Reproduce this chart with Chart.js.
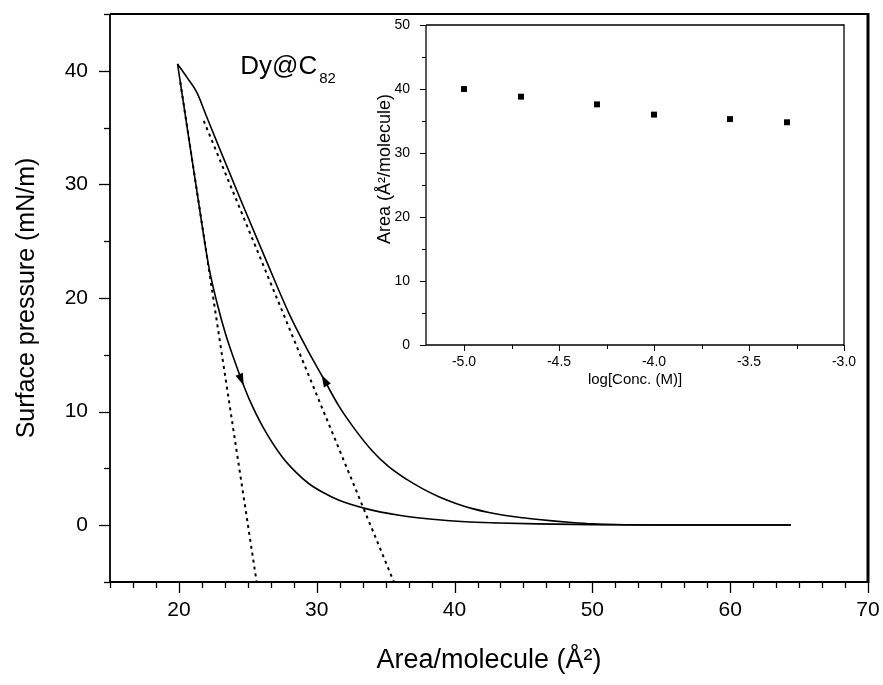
<!DOCTYPE html>
<html><head><meta charset="utf-8">
<script src="https://cdn.jsdelivr.net/npm/chart.js@4.4.1/dist/chart.umd.min.js"></script>
<style>
html,body{margin:0;padding:0;background:#fff;}
#wrap{position:relative;width:883px;height:685px;overflow:hidden;}
#main{position:absolute;left:0;top:0;}
#inset{position:absolute;left:340px;top:15px;}
</style></head><body>
<div id="wrap">
<canvas id="main" width="883" height="685"></canvas>
<canvas id="inset" width="520" height="380"></canvas>
</div>
<script>
// ---- main isotherm: compression curve (upper/right) ----
const compArea     = [19.9, 20.6, 21.3, 22.0, 22.9, 24.6, 26.3, 28.0, 29.3, 30.5, 31.6, 32.8, 34.0, 35.2, 36.5, 37.7, 38.9, 40.1, 41.3, 42.5, 43.7, 44.9, 46.1, 47.3, 48.5, 50.0, 51.5, 55.0, 64.4];
const compPressure = [40.6, 39.4, 38.1, 36.0, 33.3, 28.3, 23.4, 18.6, 15.5, 12.9, 10.5, 8.39, 6.58, 5.17, 4.05, 3.2, 2.49, 1.92, 1.46, 1.12, 0.86, 0.66, 0.5, 0.36, 0.24, 0.12, 0.06, 0.02, 0.02];
// ---- expansion curve (lower/left) ----
const expArea     = [19.9, 20.6, 21.33, 22.18, 22.8, 23.39, 24.0, 24.6, 25.1, 26.05, 27.5, 28.5, 29.44, 30.5, 31.62, 33.56, 35.98, 38.4, 40.8, 43.24, 46.0, 50.0, 55.0, 64.4];
const expPressure = [40.6, 35.0, 29.2, 22.7, 19.4, 16.8, 14.6, 12.6, 11.1, 8.75, 6.0, 4.65, 3.65, 2.85, 2.19, 1.46, 0.88, 0.53, 0.3, 0.2, 0.12, 0.05, 0.02, 0.02];
// ---- tangent (extrapolation) lines ----
const tanLeftArea      = [20.1, 25.64];
const tanLeftPressure  = [39.0, -5];
const tanRightArea     = [21.8, 35.6];
const tanRightPressure = [35.6, -5];
// ---- direction arrows on curves ----
const arrowCurve = ['exp', 'comp'];
const arrowArea  = [24.7, 30.35];
const arrowDir   = [1, -1];
// ---- main axis ticks ----
const mainXTicks = [20, 30, 40, 50, 60, 70];
const mainYTicks = [0, 10, 20, 30, 40];
// ---- inset: area vs log concentration ----
const logConc   = [-5.0, -4.7, -4.3, -4.0, -3.6, -3.3];
const insetArea = [40.0, 38.8, 37.6, 36.0, 35.3, 34.8];
const insetXTicks = [-5.0, -4.5, -4.0, -3.5, -3.0];
const insetYTicks = [0, 10, 20, 30, 40, 50];

const FONT = "'Liberation Sans', Arial, Helvetica, sans-serif";
Chart.defaults.font.family = FONT;
Chart.defaults.color = '#000';

const pts = (xs, ys) => xs.map((x, i) => ({x, y: ys[i]}));
const setTicks = arr => s => { s.ticks = arr.map(v => ({value: v})); };
const range = (a, b, step) => { const r = []; for (let v = a; v <= b + 1e-9; v += step) r.push(+v.toFixed(6)); return r; };
const fixW = w => s => { s.width = w; s.paddingTop = s.paddingBottom = s.paddingLeft = s.paddingRight = 0; };
const fixH = h => s => { s.height = h; s.paddingTop = s.paddingBottom = s.paddingLeft = s.paddingRight = 0; };

const framePlugin = {
  id: 'frame',
  afterDraw(chart, args, o) {
    const {ctx, chartArea: a, scales: {x, y}} = chart;
    ctx.save();
    ctx.strokeStyle = '#000';
    ctx.lineCap = 'butt';
    ctx.lineWidth = o.tickWidth;
    o.xMinor.forEach(v => {
      if (v < x.min - 1e-9 || v > x.max + 1e-9) return;
      const px = Math.round(x.getPixelForValue(v)) + 0.5;
      const major = o.xMajor.some(m => Math.abs(m - v) < 1e-6);
      ctx.beginPath(); ctx.moveTo(px, a.bottom); ctx.lineTo(px, a.bottom + (major ? o.majorLen : o.minorLen)); ctx.stroke();
    });
    o.yMinor.forEach(v => {
      if (v < y.min - 1e-9 || v > y.max + 1e-9) return;
      const py = Math.round(y.getPixelForValue(v)) + 0.5;
      const major = o.yMajor.some(m => Math.abs(m - v) < 1e-6);
      ctx.beginPath(); ctx.moveTo(a.left, py); ctx.lineTo(a.left - (major ? o.majorLen : o.minorLen), py); ctx.stroke();
    });
    ctx.lineWidth = o.lw;
    ctx.beginPath();
    ctx.moveTo(a.left, a.top); ctx.lineTo(a.right, a.top);
    ctx.moveTo(a.left, a.top); ctx.lineTo(a.left, a.bottom); ctx.lineTo(a.right, a.bottom);
    ctx.stroke();
    ctx.lineWidth = o.rightLw;
    ctx.beginPath(); ctx.moveTo(a.right, a.top - o.lw / 2); ctx.lineTo(a.right, a.bottom + o.lw / 2); ctx.stroke();
    ctx.restore();
  }
};

const annotPlugin = {
  id: 'annot',
  afterDatasetsDraw(chart) {
    const {ctx, scales: {x, y}} = chart;
    ctx.save();
    ctx.fillStyle = '#000';
    arrowCurve.forEach((c, i) => {
      const xs = c === 'exp' ? expArea : compArea;
      const ys = c === 'exp' ? expPressure : compPressure;
      let k = 0;
      while (k < xs.length - 2 && xs[k + 1] < arrowArea[i]) k++;
      const t = (arrowArea[i] - xs[k]) / (xs[k + 1] - xs[k]);
      const vy = ys[k] + t * (ys[k + 1] - ys[k]);
      const px = x.getPixelForValue(arrowArea[i]), py = y.getPixelForValue(vy);
      let dx = x.getPixelForValue(xs[k + 1]) - x.getPixelForValue(xs[k]);
      let dy = y.getPixelForValue(ys[k + 1]) - y.getPixelForValue(ys[k]);
      const L = Math.hypot(dx, dy); dx = dx / L * arrowDir[i]; dy = dy / L * arrowDir[i];
      const len = 12, hw = 4;
      const bx = px - dx * len, by = py - dy * len;
      ctx.beginPath();
      ctx.moveTo(px, py);
      ctx.lineTo(bx - dy * hw, by + dx * hw);
      ctx.lineTo(bx + dy * hw, by - dx * hw);
      ctx.closePath(); ctx.fill();
    });
    const lx = x.getPixelForValue(24.45), ly = y.getPixelForValue(39.75);
    ctx.textBaseline = 'alphabetic'; ctx.textAlign = 'left';
    ctx.font = `26px ${FONT}`;
    ctx.fillText('Dy@C', lx, ly);
    const w = ctx.measureText('Dy@C').width;
    ctx.font = `15px ${FONT}`;
    ctx.fillText('82', lx + w + 2, ly + 9);
    ctx.restore();
  }
};

const lineDs = (data, dash) => ({
  data, showLine: true, borderColor: '#000', borderWidth: dash ? 2 : 1.6,
  borderDash: dash ? [3, 4] : [], pointRadius: 0, fill: false,
  cubicInterpolationMode: dash ? 'default' : 'monotone', tension: dash ? 0 : 0.4
});

new Chart(document.getElementById('main'), {
  type: 'scatter',
  data: {datasets: [
    lineDs(pts(compArea, compPressure), false),
    lineDs(pts(expArea, expPressure), false),
    lineDs(pts(tanLeftArea, tanLeftPressure), true),
    lineDs(pts(tanRightArea, tanRightPressure), true)
  ]},
  options: {
    responsive: false, animation: false, devicePixelRatio: 1,
    layout: {padding: {top: 14, right: 15, left: 0, bottom: 0}},
    plugins: {legend: {display: false}, tooltip: {enabled: false},
      frame: {xMajor: mainXTicks, xMinor: range(15, 70, 5 / 3), yMajor: mainYTicks, yMinor: range(-5, 45, 5),
              majorLen: 11, minorLen: 6, tickWidth: 1.3, lw: 1.8, rightLw: 3}},
    scales: {
      x: {type: 'linear', min: 15, max: 70, afterBuildTicks: setTicks(mainXTicks),
          afterFit: fixH(103),
          grid: {display: false, drawTicks: false}, border: {display: false},
          ticks: {padding: 16, font: {size: 21}, maxRotation: 0, autoSkip: false, callback: v => String(v)},
          title: {display: true, text: 'Area/molecule (Å²)', font: {size: 27}, padding: {top: 0, bottom: 8}}},
      y: {type: 'linear', min: -5, max: 45, afterBuildTicks: setTicks(mainYTicks),
          afterFit: fixW(110),
          grid: {display: false, drawTicks: false}, border: {display: false},
          ticks: {padding: 22, font: {size: 21}, autoSkip: false, callback: v => String(v)},
          title: {display: true, text: 'Surface pressure (mN/m)', font: {size: 25}, padding: {top: 12, bottom: 0}}}
    }
  },
  plugins: [framePlugin, annotPlugin]
});

const insetTitlePlugin = {
  id: 'insetTitle',
  afterDraw(chart) {
    const {ctx} = chart;
    ctx.save();
    ctx.translate(45, 154);
    ctx.rotate(-Math.PI / 2);
    ctx.font = `18px ${FONT}`;
    ctx.fillStyle = '#000';
    ctx.textAlign = 'center'; ctx.textBaseline = 'middle';
    ctx.fillText('Area (Å²/molecule)', 0, 0);
    ctx.restore();
  }
};

new Chart(document.getElementById('inset'), {
  type: 'scatter',
  data: {datasets: [{
    data: pts(logConc, insetArea), pointStyle: 'rect', pointRadius: 4.2,
    backgroundColor: '#000', borderColor: '#000', borderWidth: 0, showLine: false
  }]},
  options: {
    responsive: false, animation: false, devicePixelRatio: 1,
    layout: {padding: {top: 10, right: 16, left: 0, bottom: 0}},
    plugins: {legend: {display: false}, tooltip: {enabled: false},
      frame: {xMajor: insetXTicks, xMinor: range(-5.0, -3.0, 0.25), yMajor: insetYTicks, yMinor: range(0, 50, 5),
              majorLen: 6, minorLen: 4, tickWidth: 1, lw: 1.3, rightLw: 1.3}},
    scales: {
      x: {type: 'linear', min: -5.2, max: -3.0, afterBuildTicks: setTicks(insetXTicks),
          afterFit: fixH(50),
          grid: {display: false, drawTicks: false}, border: {display: false},
          ticks: {padding: 9, font: {size: 14}, maxRotation: 0, autoSkip: false, callback: v => v.toFixed(1)},
          title: {display: true, text: 'log[Conc. (M)]', font: {size: 15}, padding: {top: 0, bottom: 6}}},
      y: {type: 'linear', min: 0, max: 50, afterBuildTicks: setTicks(insetYTicks),
          afterFit: fixW(86),
          grid: {display: false, drawTicks: false}, border: {display: false},
          ticks: {padding: 16, font: {size: 14}, autoSkip: false, callback: v => String(v)},
          title: {display: false}}
    }
  },
  plugins: [framePlugin, insetTitlePlugin]
});
</script>
</body></html>
